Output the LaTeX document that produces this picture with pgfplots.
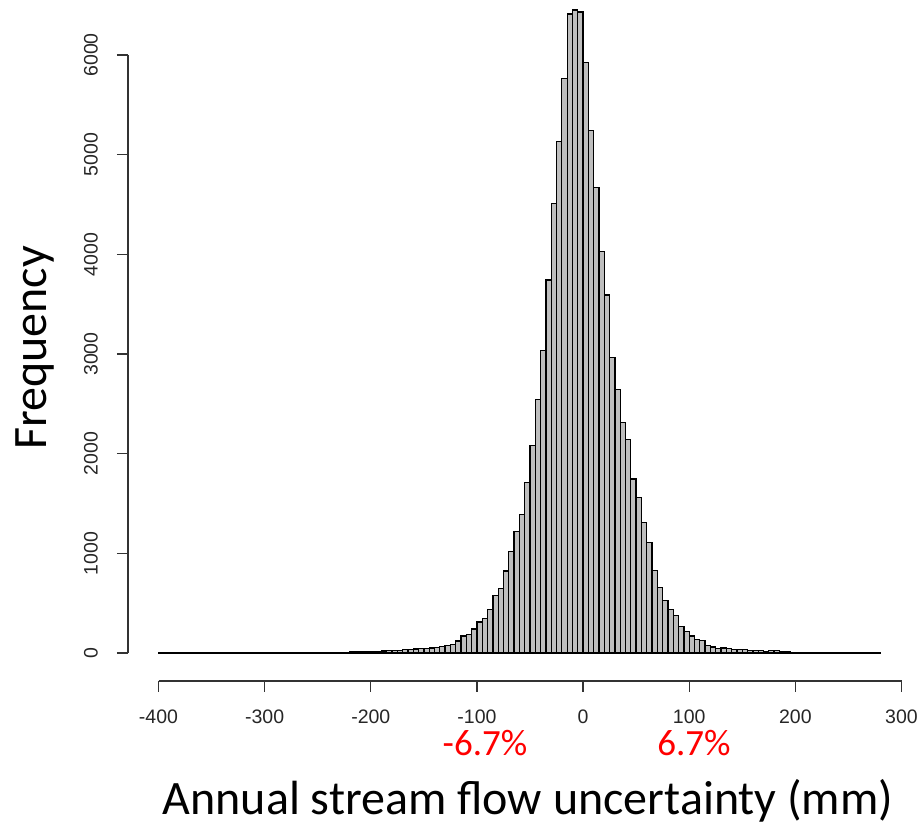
\documentclass[border=0pt]{standalone}
\usepackage{pgfplots}
\pgfplotsset{compat=1.18}
\usepackage{fontspec}
\setmainfont{Carlito}
\newfontfamily\rfont{Liberation Sans}
\definecolor{histgray}{RGB}{190,190,190}
\definecolor{labred}{RGB}{255,0,0}

\pgfplotstableread{
x y
-400 1
-395 1
-390 1
-385 1
-380 1
-375 1
-370 1
-365 1
-360 1
-355 1
-350 2
-345 1
-340 2
-335 2
-330 2
-325 3
-320 2
-315 3
-310 4
-305 3
-300 3
-295 4
-290 4
-285 5
-280 6
-275 5
-270 6
-265 7
-260 8
-255 7
-250 8
-245 6
-240 5
-235 6
-230 7
-225 8
-220 9
-215 10
-210 11
-205 12
-200 14
-195 16
-190 20
-185 22
-180 24
-175 27
-170 32
-165 38
-160 40
-155 44
-150 46
-145 50
-140 55
-135 62
-130 72
-125 88
-120 120
-115 170
-110 185
-105 240
-100 312
-95 348
-90 438
-85 575
-80 645
-75 822
-70 1016
-65 1217
-60 1391
-55 1708
-50 2079
-45 2545
-40 3032
-35 3741
-30 4510
-25 5135
-20 5765
-15 6410
-10 6450
-5 6430
0 5925
5 5240
10 4670
15 4025
20 3591
25 2962
30 2645
35 2310
40 2143
45 1745
50 1561
55 1307
60 1106
65 829
70 655
75 525
80 438
85 378
90 264
95 218
100 171
105 137
110 126
115 73
120 60
125 47
130 50
135 42
140 38
145 35
150 33
155 28
160 25
165 22
170 18
175 22
180 28
185 12
190 10
195 8
200 6
205 5
210 4
215 3
220 3
225 2
230 2
235 1
240 1
245 1
250 1
255 1
260 1
265 1
270 1
275 1
280 0
}\histdata

\begin{document}
\begin{tikzpicture}[x=1pt,y=1pt]
\useasboundingbox (0,0) rectangle (920,834);
\begin{axis}[
  at={(158.5pt,181pt)}, anchor=south west,
  scale only axis, width=743pt, height=598pt,
  xmin=-400, xmax=300, ymin=0, ymax=6000,
  clip=false,
  axis lines*=left,
  axis x line shift=28pt,
  axis y line shift=30.5pt,
  xtick={-400,-300,...,300},
  xticklabels={-400,-300,-200,-100,0,100,200,300},
  ytick={0,1000,...,6000},
  yticklabels={0,1000,2000,3000,4000,5000,6000},
  tick align=outside,
  major tick length=11pt,
  tick style={black!80, line width=1.3pt},
  axis line style={black!80, line width=1.3pt},
  ticklabel style={font=\fontsize{19.5}{20}\selectfont\rfont, text=black!85, inner sep=1pt},
  yticklabel style={rotate=90, anchor=south},
  xticklabel style={anchor=north},
  xticklabel shift=17pt,
  yticklabel shift=18pt,
]
\addplot[ybar interval, fill=histgray, draw=black, line width=1.3pt] table[x=x, y=y] {\histdata};
\end{axis}
\node[anchor=base, inner sep=0pt, font=\fontsize{48}{52}\selectfont] at (528,19) {Annual stream flow uncertainty (mm)};
\node[anchor=base, inner sep=0pt, text=labred, font=\fontsize{37}{40}\selectfont] at (485,78) {-6.7\%};
\node[anchor=base, inner sep=0pt, text=labred, font=\fontsize{37}{40}\selectfont] at (694,78) {6.7\%};
\node[rotate=90, anchor=base, inner sep=0pt, font=\fontsize{48}{52}\selectfont] at (46,486) {Frequency};
\end{tikzpicture}
\end{document}
